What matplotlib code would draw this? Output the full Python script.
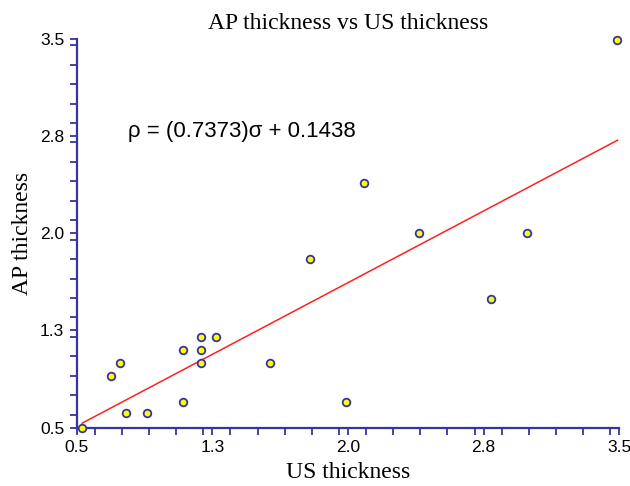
import numpy as np
import matplotlib.pyplot as plt
from matplotlib.ticker import MultipleLocator, FixedLocator

# data
us_thick = [0.53, 0.69, 0.74, 0.77, 0.89, 1.09, 1.09, 1.19, 1.19, 1.19,
            1.27, 1.57, 1.79, 1.99, 2.09, 2.39, 2.79, 2.99, 3.49]
ap_thick = [0.50, 0.90, 1.00, 0.61, 0.61, 1.10, 0.70, 1.20, 1.10, 1.00,
            1.20, 1.00, 1.80, 0.70, 2.39, 2.00, 1.49, 2.00, 3.49]
slope, intercept = 0.7373, 0.1438

tick_vals = [0.5, 1.25, 2.0, 2.75, 3.5]
tick_labels = ['0.5', '1.3', '2.0', '2.8', '3.5']

axis_col = '#3535a0'
serif = 'Liberation Serif'
sans = 'Liberation Sans'

fig = plt.figure(figsize=(6.3, 4.86), dpi=100)
ax = fig.add_axes([0.1217, 0.12, 0.8613, 0.8004])

x = np.array([min(us_thick), max(us_thick)])
ax.plot(x, slope * x + intercept, color='#ff2020', lw=1.1)
ax.plot(us_thick, ap_thick, 'o', ms=5.5, mfc='#ffff00', mec=axis_col, mew=1.3,
        clip_on=False, zorder=3)

ax.set_xlim(0.5, 3.5)
ax.set_ylim(0.5, 3.5)
for axis in (ax.xaxis, ax.yaxis):
    axis.set_major_locator(FixedLocator(tick_vals))
    axis.set_minor_locator(MultipleLocator(0.15))
ax.set_xticklabels(tick_labels, family=sans, fontsize=12.5)
ax.set_yticklabels(tick_labels, family=sans, fontsize=12.5)
ax.tick_params(which='both', length=5, width=1.3, color=axis_col, pad=4)

for s in ['top', 'right']:
    ax.spines[s].set_visible(False)
for s in ['left', 'bottom']:
    ax.spines[s].set_color(axis_col)
    ax.spines[s].set_linewidth(1.6)

ax.set_title('AP thickness vs US thickness', family=serif, fontsize=17, pad=7)
ax.set_xlabel('US thickness', family=serif, fontsize=17, labelpad=5)
ax.set_ylabel('AP thickness', family=serif, fontsize=17, labelpad=5)
ax.text(0.784, 2.738, 'ρ = (0.7373)σ + 0.1438', family=sans, fontsize=16,
        va='baseline')

fig.savefig('out.png', dpi=100)
